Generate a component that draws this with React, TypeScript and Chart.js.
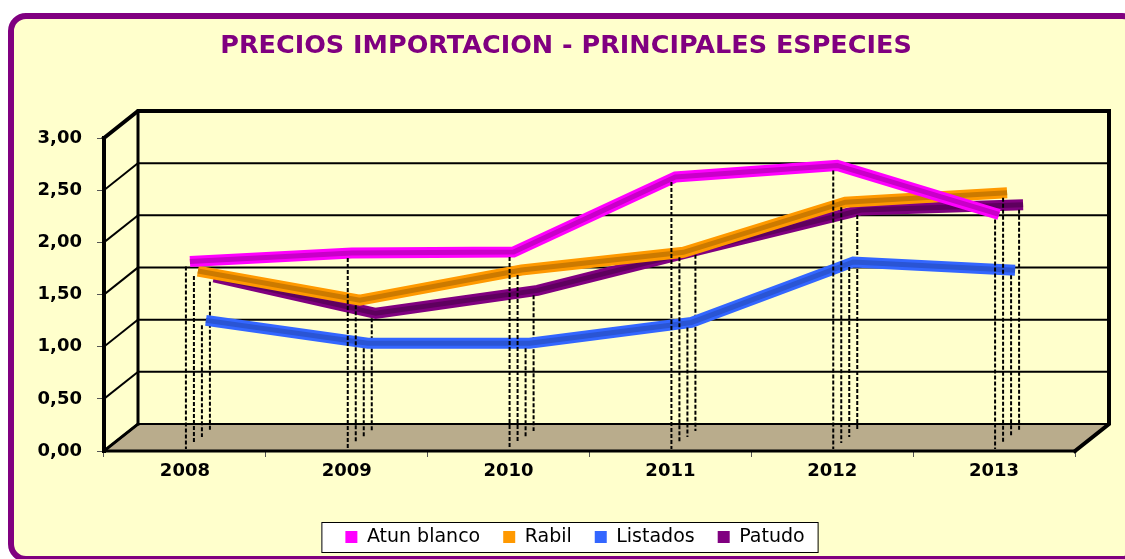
import React, { useEffect, useRef } from "react";
import { Chart, registerables } from "chart.js";

Chart.register(...registerables);

// ---- data ----
const years = ["2008", "2009", "2010", "2011", "2012", "2013"];
const atunBlanco = [1.75, 1.83, 1.84, 2.56, 2.67, 2.2];
const rabil = [1.6, 1.32, 1.61, 1.78, 2.26, 2.35];
const listados = [1.07, 0.85, 0.85, 1.05, 1.63, 1.55];
const patudo = [1.43, 1.08, 1.3, 1.69, 2.07, 2.12];
const seriesNames = ["Atun blanco", "Rabil", "Listados", "Patudo"];
const yMin = 0;
const yMax = 3;
const yStep = 0.5;
const titleText = "PRECIOS IMPORTACION - PRINCIPALES ESPECIES";

// ---- styles ----
const seriesColors = ["#FF00FF", "#FF9900", "#3366FF", "#800080"];
const seriesShades = ["#C800C8", "#CC7A00", "#2A55D4", "#5E005E"];
const DEPTH_X = 34;
const DEPTH_Y = 27;
const SERIES_SHIFT: number[][] = [
  [1, -2],
  [9, -8],
  [17, -14],
  [25, -20],
];
const LEGEND_SHIFT = 9;
const FONT = "'DejaVu Sans', 'Noto Sans', sans-serif";

const legendFrame = {
  id: "legendFrame",
  afterLayout(chart: any) {
    const lg = chart.legend;
    if (!lg) return;
    lg.left += LEGEND_SHIFT;
    lg.right += LEGEND_SHIFT;
  },
  beforeDraw(chart: any) {
    const lg = chart.legend;
    if (!lg || !lg.legendHitBoxes || !lg.legendHitBoxes.length) return;
    const hb = lg.legendHitBoxes;
    const first = hb[0];
    const last = hb[hb.length - 1];
    const cy = first.top + first.height / 2;
    const x0 = first.left - 24;
    const x1 = last.left + last.width + 13;
    const ctx = chart.ctx;
    ctx.save();
    ctx.fillStyle = "#FFFFFF";
    ctx.fillRect(x0, cy - 15, x1 - x0, 30);
    ctx.strokeStyle = "#000000";
    ctx.lineWidth = 1;
    ctx.strokeRect(x0 + 0.5, cy - 15 + 0.5, x1 - x0, 30);
    ctx.restore();
  },
};

const frame3d = {
  id: "frame3d",
  beforeDatasetsDraw(chart: any) {
    const ctx = chart.ctx;
    const { left: L, right: R, top: T, bottom: B } = chart.chartArea;
    const ys = chart.scales.y;
    ctx.save();
    ctx.lineCap = "square";
    // floor
    ctx.beginPath();
    ctx.moveTo(L, B);
    ctx.lineTo(R, B);
    ctx.lineTo(R + DEPTH_X, B - DEPTH_Y);
    ctx.lineTo(L + DEPTH_X, B - DEPTH_Y);
    ctx.closePath();
    ctx.fillStyle = "#B9AC8C";
    ctx.fill();
    // grid lines on back wall and left wall
    ctx.strokeStyle = "#000000";
    ys.ticks.forEach((t: any) => {
      const yf = ys.getPixelForValue(t.value);
      const yb = yf - DEPTH_Y;
      ctx.lineWidth = 2;
      ctx.beginPath();
      ctx.moveTo(L + DEPTH_X, yb);
      ctx.lineTo(R + DEPTH_X, yb);
      ctx.stroke();
      ctx.beginPath();
      ctx.moveTo(L, yf);
      ctx.lineTo(L + DEPTH_X, yb);
      ctx.stroke();
    });
    // back wall edges
    ctx.lineWidth = 3;
    ctx.beginPath();
    ctx.moveTo(L + DEPTH_X, B - DEPTH_Y);
    ctx.lineTo(L + DEPTH_X, T - DEPTH_Y);
    ctx.stroke();
    ctx.lineWidth = 4;
    ctx.beginPath();
    ctx.moveTo(L, T);
    ctx.lineTo(L + DEPTH_X, T - DEPTH_Y);
    ctx.lineTo(R + DEPTH_X, T - DEPTH_Y);
    ctx.lineTo(R + DEPTH_X, B - DEPTH_Y);
    ctx.lineTo(R, B);
    ctx.stroke();
    // floor edges
    ctx.lineWidth = 2;
    ctx.beginPath();
    ctx.moveTo(L + DEPTH_X, B - DEPTH_Y);
    ctx.lineTo(R + DEPTH_X, B - DEPTH_Y);
    ctx.stroke();
    ctx.lineWidth = 3;
    ctx.beginPath();
    ctx.moveTo(L, B);
    ctx.lineTo(L + DEPTH_X, B - DEPTH_Y);
    ctx.stroke();
    ctx.beginPath();
    ctx.moveTo(L, B);
    ctx.lineTo(R, B);
    ctx.stroke();
    // front vertical axis
    ctx.lineWidth = 4;
    ctx.beginPath();
    ctx.moveTo(L, T);
    ctx.lineTo(L, B);
    ctx.stroke();
    ctx.restore();
  },
};

const series3d = {
  id: "series3d",
  beforeDatasetDraw(chart: any, args: any) {
    const [dx, dy] = SERIES_SHIFT[args.index];
    chart.ctx.save();
    chart.ctx.translate(dx + 4, dy - 5);
  },
  afterDatasetDraw(chart: any, args: any) {
    const ctx = chart.ctx;
    const i = args.index;
    const pts = args.meta.data;
    ctx.beginPath();
    pts.forEach((p: any, k: number) => (k ? ctx.lineTo(p.x, p.y) : ctx.moveTo(p.x, p.y)));
    ctx.strokeStyle = seriesShades[i];
    ctx.lineWidth = 5;
    ctx.lineJoin = "miter";
    ctx.stroke();
    ctx.restore();
    const [dx, dy] = SERIES_SHIFT[i];
    const y0 = chart.scales.y.getPixelForValue(0);
    ctx.save();
    ctx.translate(dx, dy);
    ctx.setLineDash([4, 2]);
    ctx.lineWidth = 2;
    ctx.strokeStyle = "#000000";
    pts.forEach((p: any) => {
      ctx.beginPath();
      ctx.moveTo(p.x, p.y);
      ctx.lineTo(p.x, y0);
      ctx.stroke();
    });
    ctx.restore();
  },
};

export default function App() {
  const ref = useRef<HTMLCanvasElement | null>(null);
  useEffect(() => {
    if (!ref.current) return;
    const values = [atunBlanco, rabil, listados, patudo];
    const chart = new Chart(ref.current, {
      type: "line",
      data: {
        labels: years,
        datasets: values.map((v, i) => ({
          label: seriesNames[i],
          data: v,
          borderColor: seriesColors[i],
          backgroundColor: seriesColors[i],
          borderWidth: 11,
          pointRadius: 0,
          tension: 0,
          clip: false as any,
          borderJoinStyle: "miter" as const,
          yAxisID: "y",
        })),
      },
      options: {
        animation: false,
        responsive: false,
        events: [],
        layout: { padding: { left: 30, right: 23, top: 0, bottom: 2.5 } },
        plugins: {
          title: {
            display: true,
            text: titleText,
            color: "#800080",
            font: { family: FONT, size: 25.5, weight: "bold" },
            padding: { top: 31, bottom: 76.4 },
          },
          legend: {
            position: "bottom",
            labels: {
              boxWidth: 12,
              boxHeight: 12,
              padding: 23,
              color: "#000000",
              font: { family: FONT, size: 19 },
              generateLabels: (c: any) =>
                c.data.datasets.map((ds: any, i: number) => ({
                  text: ds.label,
                  fillStyle: ds.backgroundColor,
                  strokeStyle: ds.backgroundColor,
                  lineWidth: 0,
                  hidden: false,
                  datasetIndex: i,
                  fontColor: "#000000",
                })),
            },
          },
          tooltip: { enabled: false },
        },
        scales: {
          x: {
            type: "category",
            offset: true,
            grid: {
              display: true,
              drawOnChartArea: false,
              drawTicks: true,
              tickLength: 6,
              color: "#555555",
              offset: true,
            },
            border: { display: false },
            ticks: {
              color: "#000000",
              font: { family: FONT, size: 18, weight: "bold" },
              padding: 4,
              maxRotation: 0,
            },
            afterFit: (s: any) => {
              s.height = 53.5;
            },
          },
          y: {
            min: yMin,
            max: yMax,
            position: "left",
            ticks: {
              stepSize: yStep,
              color: "#000000",
              font: { family: FONT, size: 18, weight: "bold" },
              padding: 15,
              callback: (v: any) => Number(v).toFixed(2).replace(".", ","),
            },
            grid: {
              display: true,
              drawOnChartArea: false,
              drawTicks: true,
              tickLength: 7,
              color: "#555555",
            },
            border: { display: false },
            afterFit: (s: any) => {
              s.width = 74;
            },
          },
          depthSpace: {
            type: "linear",
            position: "right",
            display: true,
            grid: { display: false },
            ticks: { display: false },
            border: { display: false },
            afterFit: (s: any) => {
              s.width = 27;
            },
          },
        },
      },
      plugins: [legendFrame, frame3d, series3d],
    });
    return () => chart.destroy();
  }, []);

  return (
    <div style={{ position: "fixed", left: 0, top: 0, width: 1125, height: 559, overflow: "hidden", background: "#FFFFFF" }}>
      <div
        style={{
          position: "absolute",
          left: 8,
          top: 13,
          width: 1132,
          height: 549,
          boxSizing: "border-box",
          border: "6px solid #800080",
          borderRadius: 18,
          background: "#FFFFCC",
        }}
      />
      <canvas
        ref={ref}
        width={1125}
        height={559}
        style={{ position: "absolute", left: 0, top: 0, width: 1125, height: 559 }}
      />
    </div>
  );
}
